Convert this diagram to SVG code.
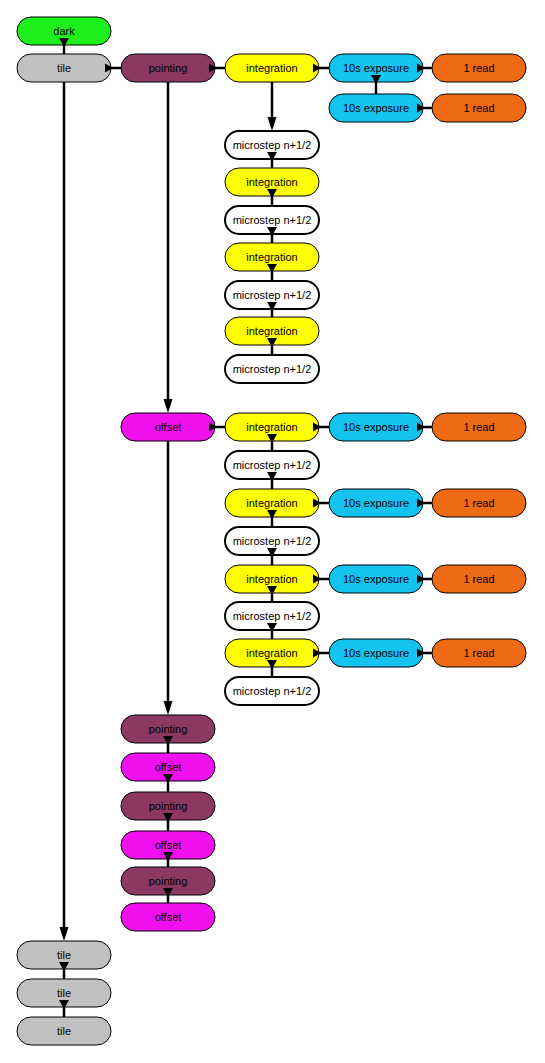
<svg xmlns="http://www.w3.org/2000/svg" width="545" height="1063" viewBox="0 0 545 1063">
<style>
.n rect{stroke:#000;stroke-width:1}
.n text{font-family:"Liberation Sans",Arial,sans-serif;font-size:11px;fill:#000;text-anchor:middle;dominant-baseline:central}
.dark rect{fill:#1EF01E}
.tile rect{fill:#C0C0C0}
.pointing rect{fill:#8C3862}
.offset rect{fill:#EE11EE}
.integ rect{fill:#FFFF00}
.expo rect{fill:#14C3F0}
.read rect{fill:#EE6A14}
.micro rect{fill:#FFFFFF;stroke-width:2}
.c line{stroke:#000;stroke-width:2.5}
.c polygon{fill:#000}
</style>
<rect width="545" height="1063" fill="#FFFFFF"/>
<g id="nodes">
<g id="dark" class="n dark"><rect x="17" y="17" width="94" height="28" rx="14"/><text x="64" y="31">dark</text></g>
<g id="tile1" class="n tile"><rect x="17" y="54" width="94" height="28" rx="14"/><text x="64" y="68">tile</text></g>
<g id="pointing1" class="n pointing"><rect x="121" y="54" width="94" height="28" rx="14"/><text x="168" y="68">pointing</text></g>
<g id="integ1" class="n integ"><rect x="225" y="54" width="94" height="28" rx="14"/><text x="272" y="68">integration</text></g>
<g id="expo1" class="n expo"><rect x="329" y="54" width="94" height="28" rx="14"/><text x="376" y="68">10s exposure</text></g>
<g id="read1" class="n read"><rect x="432" y="54" width="94" height="28" rx="14"/><text x="479" y="68">1 read</text></g>
<g id="expo2" class="n expo"><rect x="329" y="94" width="94" height="28" rx="14"/><text x="376" y="108">10s exposure</text></g>
<g id="read2" class="n read"><rect x="432" y="94" width="94" height="28" rx="14"/><text x="479" y="108">1 read</text></g>
<g id="micro1" class="n micro"><rect x="225" y="131" width="94" height="28" rx="14"/><text x="272" y="145">microstep n+1/2</text></g>
<g id="integ2" class="n integ"><rect x="225" y="168" width="94" height="28" rx="14"/><text x="272" y="182">integration</text></g>
<g id="micro2" class="n micro"><rect x="225" y="206" width="94" height="28" rx="14"/><text x="272" y="220">microstep n+1/2</text></g>
<g id="integ3" class="n integ"><rect x="225" y="243" width="94" height="28" rx="14"/><text x="272" y="257">integration</text></g>
<g id="micro3" class="n micro"><rect x="225" y="281" width="94" height="28" rx="14"/><text x="272" y="295">microstep n+1/2</text></g>
<g id="integ4" class="n integ"><rect x="225" y="317" width="94" height="28" rx="14"/><text x="272" y="331">integration</text></g>
<g id="micro4" class="n micro"><rect x="225" y="355" width="94" height="28" rx="14"/><text x="272" y="369">microstep n+1/2</text></g>
<g id="offset1" class="n offset"><rect x="121" y="413" width="94" height="28" rx="14"/><text x="168" y="427">offset</text></g>
<g id="integ5" class="n integ"><rect x="225" y="413" width="94" height="28" rx="14"/><text x="272" y="427">integration</text></g>
<g id="expo3" class="n expo"><rect x="329" y="413" width="94" height="28" rx="14"/><text x="376" y="427">10s exposure</text></g>
<g id="read3" class="n read"><rect x="432" y="413" width="94" height="28" rx="14"/><text x="479" y="427">1 read</text></g>
<g id="micro5" class="n micro"><rect x="225" y="451" width="94" height="28" rx="14"/><text x="272" y="465">microstep n+1/2</text></g>
<g id="integ6" class="n integ"><rect x="225" y="489" width="94" height="28" rx="14"/><text x="272" y="503">integration</text></g>
<g id="expo4" class="n expo"><rect x="329" y="489" width="94" height="28" rx="14"/><text x="376" y="503">10s exposure</text></g>
<g id="read4" class="n read"><rect x="432" y="489" width="94" height="28" rx="14"/><text x="479" y="503">1 read</text></g>
<g id="micro6" class="n micro"><rect x="225" y="527" width="94" height="28" rx="14"/><text x="272" y="541">microstep n+1/2</text></g>
<g id="integ7" class="n integ"><rect x="225" y="565" width="94" height="28" rx="14"/><text x="272" y="579">integration</text></g>
<g id="expo5" class="n expo"><rect x="329" y="565" width="94" height="28" rx="14"/><text x="376" y="579">10s exposure</text></g>
<g id="read5" class="n read"><rect x="432" y="565" width="94" height="28" rx="14"/><text x="479" y="579">1 read</text></g>
<g id="micro7" class="n micro"><rect x="225" y="602" width="94" height="28" rx="14"/><text x="272" y="616">microstep n+1/2</text></g>
<g id="integ8" class="n integ"><rect x="225" y="639" width="94" height="28" rx="14"/><text x="272" y="653">integration</text></g>
<g id="expo6" class="n expo"><rect x="329" y="639" width="94" height="28" rx="14"/><text x="376" y="653">10s exposure</text></g>
<g id="read6" class="n read"><rect x="432" y="639" width="94" height="28" rx="14"/><text x="479" y="653">1 read</text></g>
<g id="micro8" class="n micro"><rect x="225" y="677" width="94" height="28" rx="14"/><text x="272" y="691">microstep n+1/2</text></g>
<g id="pointing2" class="n pointing"><rect x="121" y="715" width="94" height="28" rx="14"/><text x="168" y="729">pointing</text></g>
<g id="offset2" class="n offset"><rect x="121" y="753" width="94" height="28" rx="14"/><text x="168" y="767">offset</text></g>
<g id="pointing3" class="n pointing"><rect x="121" y="792" width="94" height="28" rx="14"/><text x="168" y="806">pointing</text></g>
<g id="offset3" class="n offset"><rect x="121" y="831" width="94" height="28" rx="14"/><text x="168" y="845">offset</text></g>
<g id="pointing4" class="n pointing"><rect x="121" y="867" width="94" height="28" rx="14"/><text x="168" y="881">pointing</text></g>
<g id="offset4" class="n offset"><rect x="121" y="903" width="94" height="28" rx="14"/><text x="168" y="917">offset</text></g>
<g id="tile2" class="n tile"><rect x="17" y="941" width="94" height="28" rx="14"/><text x="64" y="955">tile</text></g>
<g id="tile3" class="n tile"><rect x="17" y="979" width="94" height="28" rx="14"/><text x="64" y="993">tile</text></g>
<g id="tile4" class="n tile"><rect x="17" y="1017" width="94" height="28" rx="14"/><text x="64" y="1031">tile</text></g>
</g>
<g id="connectors" class="c">
<!-- long vertical arrows -->
<line x1="64" y1="82" x2="64" y2="930"/><polygon points="59.5,927 68.5,927 64,941"/>
<line x1="168" y1="82" x2="168" y2="402"/><polygon points="163.5,399 172.5,399 168,413"/>
<line x1="272" y1="82" x2="272" y2="120"/><polygon points="267.5,117 276.5,117 272,131"/>
<line x1="168" y1="441" x2="168" y2="704"/><polygon points="163.5,701 172.5,701 168,715"/>
<!-- short vertical arrows -->
<line x1="64" y1="45" x2="64" y2="54"/><polygon points="59,38 69,38 64,47"/>
<line x1="376" y1="82" x2="376" y2="94"/><polygon points="371,75 381,75 376,84"/>
<line x1="272" y1="159" x2="272" y2="168"/><polygon points="267,152 277,152 272,161"/>
<line x1="272" y1="196" x2="272" y2="206"/><polygon points="267,189 277,189 272,198"/>
<line x1="272" y1="234" x2="272" y2="243"/><polygon points="267,227 277,227 272,236"/>
<line x1="272" y1="271" x2="272" y2="281"/><polygon points="267,264 277,264 272,273"/>
<line x1="272" y1="309" x2="272" y2="317"/><polygon points="267,302 277,302 272,311"/>
<line x1="272" y1="345" x2="272" y2="355"/><polygon points="267,338 277,338 272,347"/>
<line x1="272" y1="441" x2="272" y2="451"/><polygon points="267,434 277,434 272,443"/>
<line x1="272" y1="479" x2="272" y2="489"/><polygon points="267,472 277,472 272,481"/>
<line x1="272" y1="517" x2="272" y2="527"/><polygon points="267,510 277,510 272,519"/>
<line x1="272" y1="555" x2="272" y2="565"/><polygon points="267,548 277,548 272,557"/>
<line x1="272" y1="593" x2="272" y2="602"/><polygon points="267,586 277,586 272,595"/>
<line x1="272" y1="630" x2="272" y2="639"/><polygon points="267,623 277,623 272,632"/>
<line x1="272" y1="667" x2="272" y2="677"/><polygon points="267,660 277,660 272,669"/>
<line x1="168" y1="743" x2="168" y2="753"/><polygon points="163,736 173,736 168,745"/>
<line x1="168" y1="781" x2="168" y2="792"/><polygon points="163,774 173,774 168,783"/>
<line x1="168" y1="820" x2="168" y2="831"/><polygon points="163,813 173,813 168,822"/>
<line x1="168" y1="859" x2="168" y2="867"/><polygon points="163,852 173,852 168,861"/>
<line x1="168" y1="895" x2="168" y2="903"/><polygon points="163,888 173,888 168,897"/>
<line x1="64" y1="969" x2="64" y2="979"/><polygon points="59,962 69,962 64,971"/>
<line x1="64" y1="1007" x2="64" y2="1017"/><polygon points="59,1000 69,1000 64,1009"/>
<!-- short horizontal arrows -->
<line x1="111" y1="68" x2="121" y2="68"/><polygon points="105,63.5 105,72.5 113,68"/>
<line x1="215" y1="68" x2="225" y2="68"/><polygon points="209,63.5 209,72.5 217,68"/>
<line x1="319" y1="68" x2="329" y2="68"/><polygon points="313,63.5 313,72.5 321,68"/>
<line x1="423" y1="68" x2="432" y2="68"/><polygon points="417,63.5 417,72.5 425,68"/>
<line x1="423" y1="108" x2="432" y2="108"/><polygon points="417,103.5 417,112.5 425,108"/>
<line x1="215" y1="427" x2="225" y2="427"/><polygon points="209,422.5 209,431.5 217,427"/>
<line x1="319" y1="427" x2="329" y2="427"/><polygon points="313,422.5 313,431.5 321,427"/>
<line x1="423" y1="427" x2="432" y2="427"/><polygon points="417,422.5 417,431.5 425,427"/>
<line x1="319" y1="503" x2="329" y2="503"/><polygon points="313,498.5 313,507.5 321,503"/>
<line x1="423" y1="503" x2="432" y2="503"/><polygon points="417,498.5 417,507.5 425,503"/>
<line x1="319" y1="579" x2="329" y2="579"/><polygon points="313,574.5 313,583.5 321,579"/>
<line x1="423" y1="579" x2="432" y2="579"/><polygon points="417,574.5 417,583.5 425,579"/>
<line x1="319" y1="653" x2="329" y2="653"/><polygon points="313,648.5 313,657.5 321,653"/>
<line x1="423" y1="653" x2="432" y2="653"/><polygon points="417,648.5 417,657.5 425,653"/>
</g>
</svg>
